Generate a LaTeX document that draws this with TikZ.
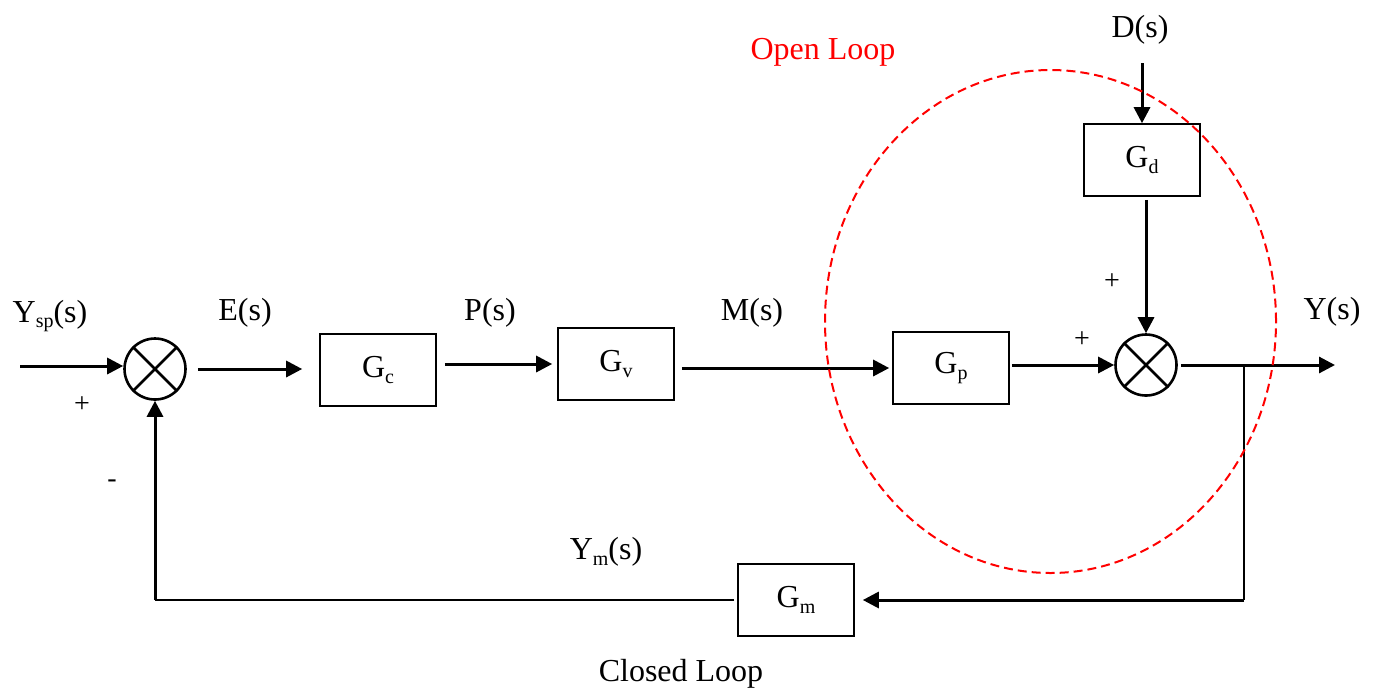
\documentclass[tikz,border=0pt]{standalone}
\usepackage{fontspec}
\setmainfont{Liberation Serif}
\usetikzlibrary{arrows.meta}
\newcommand\lsub[1]{\raisebox{-0.4ex}{\fontsize{10}{11}\selectfont #1}}
\tikzset{
  blk/.style={draw, line width=0.8pt, minimum width=58pt, minimum height=36pt, inner sep=0pt, font=\fontsize{16}{18}\selectfont},
  sumj/.style={draw, circle, line width=1.3pt, minimum size=30.5pt, inner sep=0pt},
  arr/.style={line width=1.5pt, -{Triangle[length=8pt,width=8pt]}},
  thinln/.style={line width=0.6pt},
  lbl/.style={font=\fontsize{16}{18}\selectfont, inner sep=0pt},
  sgn/.style={font=\fontsize{14}{16}\selectfont, inner sep=0pt}
}
\begin{document}
\begin{tikzpicture}[x=0.5pt,y=-0.5pt]
\useasboundingbox (0,0) rectangle (1374,692);
% summing junctions
\node[sumj] (sum1) at (155,369) {};
\draw[line width=1.3pt] (sum1.north east) -- (sum1.south west) (sum1.north west) -- (sum1.south east);
\node[sumj] (sum2) at (1146,365) {};
\draw[line width=1.3pt] (sum2.north east) -- (sum2.south west) (sum2.north west) -- (sum2.south east);
% blocks
\node[blk] (gc) at (378,370) {G\lsub{c}};
\node[blk] (gv) at (616,364) {G\lsub{v}};
\node[blk] (gp) at (951,368) {G\lsub{p}};
\node[blk] (gd) at (1142,160) {G\lsub{d}};
\node[blk] (gm) at (796,600) {G\lsub{m}};
% coordinates
\coordinate (in) at (20,366);
\coordinate (out) at (1335,365);
\coordinate (br) at (1244,365);
\coordinate (din) at (1142,63);
\coordinate (corner) at (sum1 |- gm.west);
% connectors
\draw[arr] (in) -- (in -| sum1.west);
\draw[arr, shorten <=5.5pt, shorten >=8.5pt] (sum1.east) -- (sum1.east -| gc.west);
\draw[arr, shorten <=4pt, shorten >=2.5pt] (gc.east |- gv.west) -- (gv.west);
\draw[arr, shorten <=3.5pt, shorten >=1.5pt] (gv.east |- gp.west) -- (gp.west);
\draw[arr, shorten <=1pt] (gp.east |- sum2.west) -- (sum2.west);
\draw[arr, shorten <=1.5pt] (sum2.east) -- (out);
\draw[thinln] (br) -- (br |- gm.east);
\draw[arr, shorten >=4pt] (br |- gm.east) -- (gm.east);
\draw[thinln, shorten <=1.5pt] (gm.west) -- (corner);
\draw[arr] (corner) -- (sum1.south);
\draw[arr] (din) -- (gd.north);
\draw[arr, shorten <=1.5pt] (sum2 |- gd.south) -- (sum2.north);
% open loop ellipse
\draw[red, line width=1pt, dash pattern=on 4.5pt off 2.5pt] (1050.5,321.5) ellipse [x radius=112.75pt, y radius=125.75pt];
% labels
\node[lbl] (lysp) at (50,316) {Y\lsub{sp}(s)};
\node[lbl] (les) at (245,313) {E(s)};
\node[lbl] (lps) at (490,313) {P(s)};
\node[lbl] (lms) at (752,313) {M(s)};
\node[lbl] (lys) at (1332,312) {Y(s)};
\node[lbl] (lds) at (1140,30) {D(s)};
\node[lbl] (lym) at (606,552) {Y\lsub{m}(s)};
\node[lbl, text=red] (lopen) at (823,52) {Open Loop};
\node[lbl] (lclosed) at (681,674) {Closed Loop};
\node[sgn] (p1) at (82,405) {+};
\node[sgn] (m1) at (112,484) {-};
\node[sgn] (p2) at (1112,282) {+};
\node[sgn] (p3) at (1082,340) {+};
\end{tikzpicture}
\end{document}
